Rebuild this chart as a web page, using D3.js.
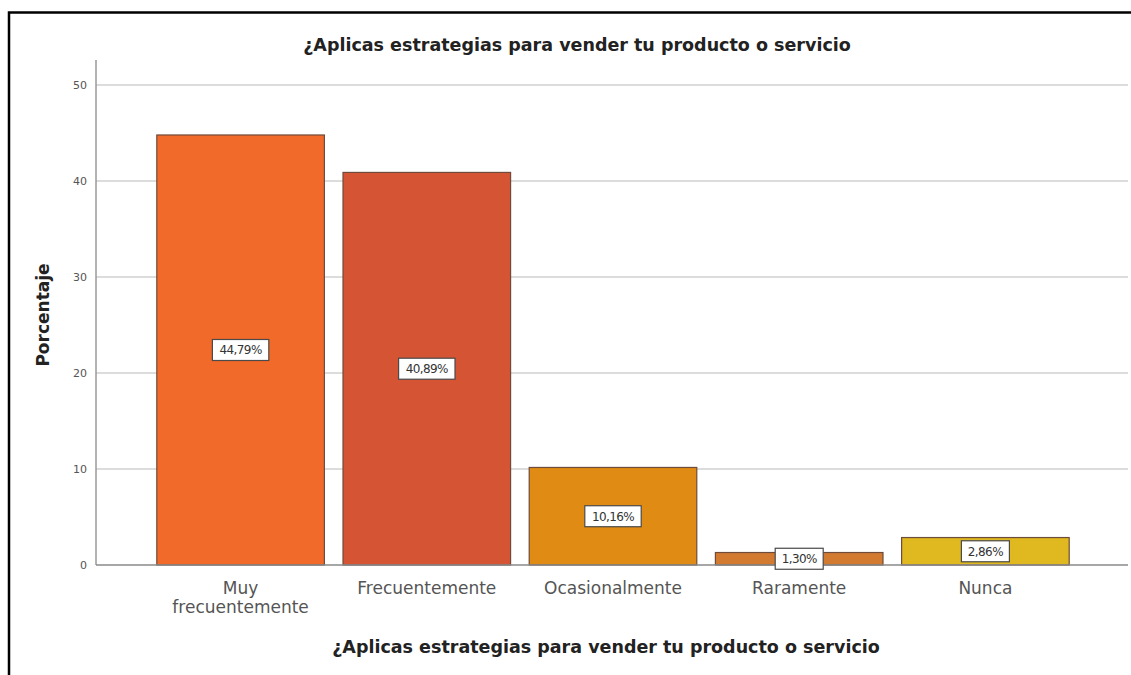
<!DOCTYPE html>
<html><head><meta charset="utf-8">
<script src="https://cdn.jsdelivr.net/npm/d3@7"></script>
<style>body{margin:0;background:#fff}svg{display:block}</style>
</head><body>
<svg id="c" width="1131" height="675"></svg>
<script>
const categories = [["Muy","frecuentemente"],["Frecuentemente"],["Ocasionalmente"],["Raramente"],["Nunca"]];
const values = [44.79, 40.89, 10.16, 1.30, 2.86];
const labels = ["44,79%","40,89%","10,16%","1,30%","2,86%"];
const colors = ["#f26a29","#d55434","#e08b13","#d37a31","#e0b81f"];
const yTicks = [0,10,20,30,40,50];
const title = "¿Aplicas estrategias para vender tu producto o servicio";
const yTitle = "Porcentaje";

(function(){
const svg = d3.select("#c");
const W = 1131, H = 675;
const pLeft = 96, pRight = 1128, pTop = 60, pBottom = 565;

// frame
svg.append("path").attr("d", `M9,${H} L9,12.5 L${W},12.5`).attr("fill","none").attr("stroke","#000").attr("stroke-width",2.5);

const y = d3.scaleLinear().domain([0,52.6]).range([pBottom, pTop]);
const x = d3.scaleBand().domain(d3.range(values.length)).range([147.5,1078.5]).paddingInner(0.1).paddingOuter(0.05);

// gridlines
svg.append("g").selectAll("line").data(yTicks.filter(d=>d>0)).join("line")
  .attr("x1", pLeft).attr("x2", pRight).attr("y1", d=>y(d)).attr("y2", d=>y(d))
  .attr("stroke","#dcdcdc").attr("stroke-width",2);

// y axis
const yAxis = svg.append("g").attr("transform",`translate(${pLeft},0)`)
  .call(d3.axisLeft(y).tickValues(yTicks).tickSize(0).tickPadding(9));
yAxis.select(".domain").remove();
yAxis.selectAll("text").attr("font-family","DejaVu Sans").attr("font-size",11).attr("fill","#555");
svg.append("line").attr("x1",pLeft).attr("x2",pLeft).attr("y1",pTop).attr("y2",pBottom).attr("stroke","#999").attr("stroke-width",1.5);

// bars
svg.append("g").selectAll("rect").data(values).join("rect")
  .attr("x",(d,i)=>x(i)).attr("width",x.bandwidth())
  .attr("y",d=>y(d)).attr("height",d=>pBottom-y(d))
  .attr("fill",(d,i)=>colors[i]).attr("stroke","#6e4b3a").attr("stroke-width",1.2);

// baseline
svg.append("line").attr("x1",pLeft).attr("x2",pRight).attr("y1",pBottom).attr("y2",pBottom).attr("stroke","#8a8a8a").attr("stroke-width",1.5);

// value labels
const lg = svg.append("g").selectAll("g").data(values).join("g")
  .attr("transform",(d,i)=>`translate(${x(i)+x.bandwidth()/2},${y(d/2)})`);
lg.append("rect").attr("x",(d,i)=>-(labels[i].length*4.2+3)).attr("width",(d,i)=>2*(labels[i].length*4.2+3))
  .attr("y",-10.5).attr("height",21).attr("fill","#fff").attr("stroke","#4a4a4a").attr("stroke-width",1.2);
lg.append("text").attr("text-anchor","middle").attr("dy","0.36em")
  .attr("font-family","DejaVu Sans").attr("font-size",12).attr("fill","#333").attr("letter-spacing",-0.6)
  .text((d,i)=>labels[i]);

// category labels
const cg = svg.append("g").selectAll("text").data(categories).join("text")
  .attr("x",(d,i)=>x(i)+x.bandwidth()/2).attr("y",594)
  .attr("text-anchor","middle").attr("font-family","DejaVu Sans").attr("font-size",17).attr("fill","#555");
cg.selectAll("tspan").data(d=>d).join("tspan")
  .attr("x",function(){return this.parentNode.getAttribute("x");})
  .attr("dy",(d,j)=>j===0?0:19).text(d=>d);

// titles
svg.append("text").attr("x",577).attr("y",51).attr("text-anchor","middle")
  .attr("font-family","DejaVu Sans").attr("font-weight","bold").attr("font-size",17.5).attr("fill","#222").text(title);
svg.append("text").attr("x",606).attr("y",653).attr("text-anchor","middle")
  .attr("font-family","DejaVu Sans").attr("font-weight","bold").attr("font-size",17.5).attr("fill","#222").text(title);
svg.append("text").attr("transform","translate(49,315) rotate(-90)").attr("text-anchor","middle")
  .attr("font-family","DejaVu Sans").attr("font-weight","bold").attr("font-size",17).attr("fill","#222").text(yTitle);
})();
</script>
</body></html>
